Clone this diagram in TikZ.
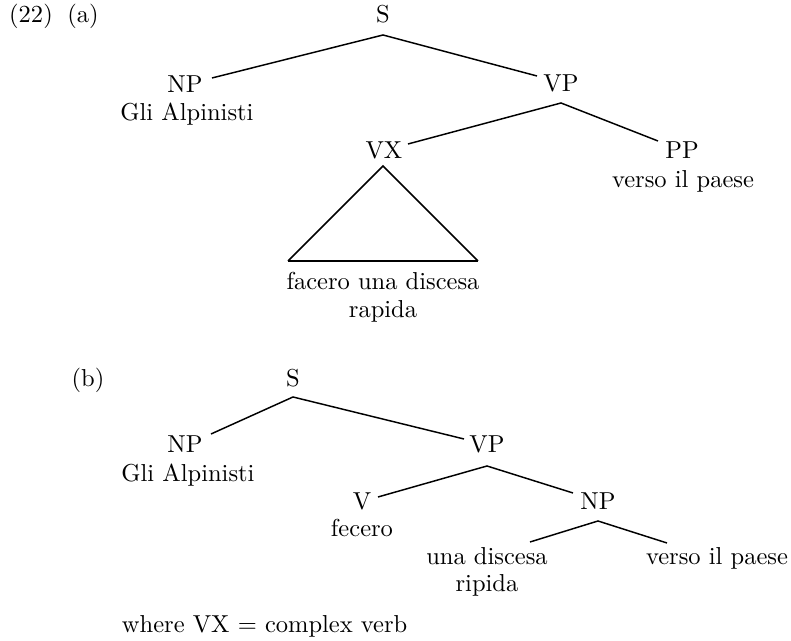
\documentclass[tikz,border=0pt]{standalone}
\begin{document}
\begin{tikzpicture}[x=0.408pt,y=-0.408pt,
  lbl/.style={anchor=base,inner sep=0pt,outer sep=0pt},
  edge/.style={line width=0.6pt},
  base/.style={line width=1pt}]
\useasboundingbox (0,0) rectangle (791,641);
% (a)
\node[lbl] (n22) at (31,23) {(22)};
\node[lbl] (la) at (83,23) {(a)};
\node[lbl] (aS) at (383,23) {S};
\node[lbl] (aNP) at (185,93) {NP};
\node[lbl] (aGli) at (187,121) {Gli Alpinisti};
\node[lbl] (aVP) at (561,92) {VP};
\node[lbl] (aVX) at (384,159) {VX};
\node[lbl] (aPP) at (682,159) {PP};
\node[lbl] (aVerso) at (683,188) {verso il paese};
\node[lbl] (aFac) at (383,290) {facero una discesa};
\node[lbl] (aRap) at (383,318) {rapida};
\coordinate (aSb) at (383,35);
\coordinate (aNPt) at (212,78);
\coordinate (aVPt) at (537,76);
\coordinate (aVPb) at (561,103);
\coordinate (aVXt) at (408,144);
\coordinate (aPPt) at (658,141);
\coordinate (aTri) at (383,166);
\coordinate (aTl) at (288,261);
\coordinate (aTr) at (478,261);
\draw[edge] (aNPt) -- (aSb) -- (aVPt);
\draw[edge] (aVXt) -- (aVPb) -- (aPPt);
\draw[edge] (aTl) -- (aTri) -- (aTr);
\draw[base] (aTl) -- (aTr);
% (b)
\node[lbl] (lb) at (88,387) {(b)};
\node[lbl] (bS) at (293,387) {S};
\node[lbl] (bNP) at (185,453) {NP};
\node[lbl] (bGli) at (188,482) {Gli Alpinisti};
\node[lbl] (bVP) at (487,453) {VP};
\node[lbl] (bV) at (362,510) {V};
\node[lbl] (bFec) at (362,537) {fecero};
\node[lbl] (bNP2) at (598,510) {NP};
\node[lbl] (bUna) at (487,565) {una discesa};
\node[lbl] (bRip) at (487,592) {ripida};
\node[lbl] (bVerso) at (717,565) {verso il paese};
\coordinate (bSb) at (293,397);
\coordinate (bNPt) at (211,434);
\coordinate (bVPt) at (464,439);
\coordinate (bVPb) at (487,466);
\coordinate (bVt) at (378,497);
\coordinate (bNP2t) at (573,493);
\coordinate (bNP2b) at (598,521);
\coordinate (bUnat) at (530,542);
\coordinate (bVersot) at (667,543);
\draw[edge] (bNPt) -- (bSb) -- (bVPt);
\draw[edge] (bVt) -- (bVPb) -- (bNP2t);
\draw[edge] (bUnat) -- (bNP2b) -- (bVersot);
\node[lbl,anchor=base west] (note) at (122,633) {where VX $=$ complex verb};
\end{tikzpicture}
\end{document}
